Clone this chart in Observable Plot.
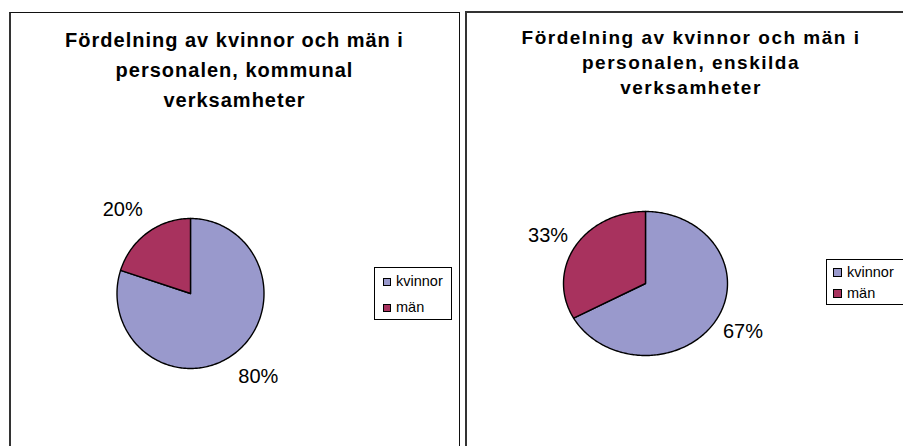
<!DOCTYPE html>
<html><head><meta charset="utf-8">
<script src="https://cdn.jsdelivr.net/npm/d3@7"></script>
<script src="https://cdn.jsdelivr.net/npm/@observablehq/plot@0.6"></script>
<style>
body{margin:0;background:#fff;width:903px;height:446px;overflow:hidden;position:relative;font-family:"Liberation Sans",Arial,sans-serif;}
.panel{position:absolute;box-sizing:border-box;}
#p1{left:9px;top:12px;width:451px;height:460px;border-left:2px solid #333;border-top:1px solid #111;border-right:1.5px solid #111;}
#p2{left:465px;top:11px;width:460px;height:460px;border-left:2px solid #333;border-top:2px solid #333;}
.title{position:absolute;text-align:center;font-weight:bold;color:#000;white-space:nowrap;}
#t1{left:10px;top:25px;width:449px;font-size:20px;line-height:30px;letter-spacing:1px;}
#t2{left:471px;top:25px;width:440px;font-size:19px;line-height:25px;letter-spacing:1.5px;}
.legend{position:absolute;border:1px solid #000;background:#fff;box-sizing:border-box;color:#000;}
.legend .row{position:absolute;height:16px;line-height:16px;white-space:nowrap;}
.legend .sw{position:absolute;box-sizing:border-box;border:1px solid #000;}
.legend .tx{position:absolute;font-size:14.5px;}
</style>
</head><body>
<div class="panel" id="p1"></div>
<div class="panel" id="p2"></div>
<div class="title" id="t1"></div>
<div class="title" id="t2"></div>
<div class="legend" id="l1" style="left:374px;top:267px;width:78px;height:53px;"></div>
<div class="legend" id="l2" style="left:826px;top:259px;width:90px;height:46px;"></div>
<script>
const categories = ["kvinnor", "män"];
const colors = ["#9999CC", "#A8325E"];
const kommunalValues = [80, 20];
const enskildaValues = [67, 33];
const kommunalLabels = ["80%", "20%"];
const enskildaLabels = ["67%", "33%"];
const title1 = ["Fördelning av kvinnor och män i", "personalen, kommunal", "verksamheter"];
const title2 = ["Fördelning av kvinnor och män i", "personalen, enskilda", "verksamheter"];

document.getElementById("t1").innerHTML = title1.join("<br>");
document.getElementById("t2").innerHTML = title2.join("<br>");

function piePlot(values, labels, xr, yr, labelRx, labelRy) {
  const arcs = d3.pie().sort(null)(values);
  const pts = [];
  arcs.forEach((a, i) => {
    const name = categories[i];
    pts.push({name, x: 0, y: 0});
    const n = Math.max(2, Math.ceil((a.endAngle - a.startAngle) / (Math.PI / 180)));
    for (let k = 0; k <= n; k++) {
      const t = a.startAngle + (a.endAngle - a.startAngle) * k / n;
      pts.push({name, x: Math.sin(t), y: Math.cos(t)});
    }
    pts.push({name, x: 0, y: 0});
  });
  const lab = arcs.map((a, i) => {
    const m = (a.startAngle + a.endAngle) / 2;
    return {label: labels[i], x: labelRx * Math.sin(m), y: labelRy * Math.cos(m)};
  });
  return Plot.plot({
    width: 903, height: 446, margin: 0,
    style: {background: "transparent", position: "absolute", left: "0px", top: "0px", overflow: "visible", pointerEvents: "none"},
    x: {domain: [-1, 1], range: xr, axis: null},
    y: {domain: [-1, 1], range: yr, axis: null},
    color: {domain: categories, range: colors},
    marks: [
      Plot.line(pts, {x: "x", y: "y", z: "name", fill: "name", stroke: "#000", strokeWidth: 1.4, strokeLinejoin: "round"}),
      Plot.text(lab, {x: "x", y: "y", text: "label", fontSize: 20, fill: "#000", fontFamily: "Liberation Sans, Arial, sans-serif"})
    ]
  });
}

document.body.appendChild(piePlot(kommunalValues, kommunalLabels, [116.5, 263.5], [368, 218], 1.57, 1.375));
document.body.appendChild(piePlot(enskildaValues, enskildaLabels, [563, 727], [355, 211], 1.38, 1.3));

function legend(id, rowTops, swLeft, swSize, swOff, txLeft) {
  const el = document.getElementById(id);
  categories.forEach((c, i) => {
    const row = document.createElement("div");
    row.className = "row";
    row.style.top = rowTops[i] + "px";
    row.style.left = "0px";
    const sw = document.createElement("div");
    sw.className = "sw";
    sw.style.left = swLeft + "px";
    sw.style.top = swOff + "px";
    sw.style.width = swSize + "px";
    sw.style.height = swSize + "px";
    sw.style.background = colors[i];
    const tx = document.createElement("div");
    tx.className = "tx";
    tx.style.left = txLeft + "px";
    tx.style.top = "0px";
    tx.textContent = c;
    row.appendChild(sw);
    row.appendChild(tx);
    el.appendChild(row);
  });
}
legend("l1", [5, 31], 8, 8, 5, 21);
legend("l2", [4, 25], 6, 9, 4, 20);
</script>
</body></html>
